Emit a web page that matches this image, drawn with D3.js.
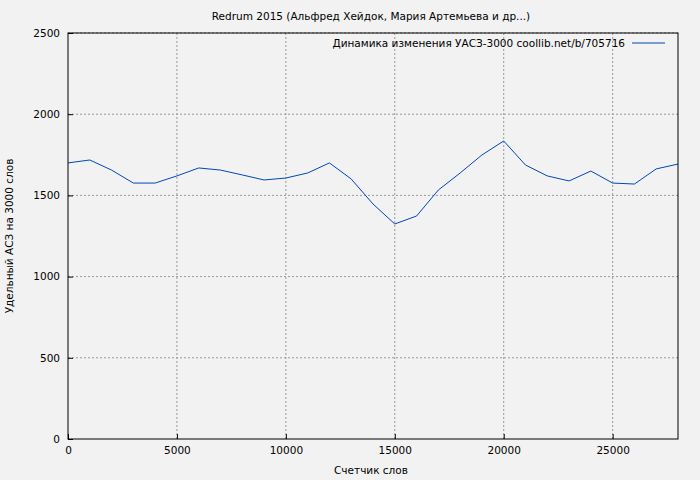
<!DOCTYPE html>
<html><head><meta charset="utf-8">
<script src="https://cdn.jsdelivr.net/npm/d3@7"></script>
<style>body{margin:0;background:#f2f2f2}svg{font-family:"DejaVu Sans",sans-serif}</style>
</head><body><div id="chart"></div>
<script>
var xs = [0,1000,2000,3000,4000,5000,6000,7000,8000,9000,10000,11000,12000,13000,14000,15000,16000,17000,18000,19000,20000,21000,22000,23000,24000,25000,26000,27000,28000];
var ys = [1700,1718,1656,1576,1576,1620,1669,1656,1626,1595,1607,1638,1700,1601,1447,1324,1373,1533,1638,1749,1835,1687,1620,1589,1650,1576,1570,1663,1693];
var xTicks = [0,5000,10000,15000,20000,25000];
var yTicks = [0,500,1000,1500,2000,2500];
var data = xs.map(function(d,i){ return {x:d, y:ys[i]}; });

var margin = {top:33, right:22, bottom:41, left:68},
    width = 700 - margin.left - margin.right,
    height = 480 - margin.top - margin.bottom;

var svg = d3.select("#chart").append("svg")
    .attr("width",700).attr("height",480)
    .style("background","#f2f2f2");
var g = svg.append("g").attr("transform","translate("+margin.left+","+margin.top+")");

var x = d3.scaleLinear().domain([0,28000]).range([0,width]);
var y = d3.scaleLinear().domain([0,2500]).range([height,0]);

// grid
g.selectAll(".gx").data(xTicks.slice(1)).enter().append("line")
  .attr("x1",x).attr("x2",x).attr("y1",0).attr("y2",height)
  .attr("stroke","#999").attr("stroke-dasharray","2,2");
g.selectAll(".gy").data(yTicks.slice(1)).enter().append("line")
  .attr("y1",y).attr("y2",y).attr("x1",0).attr("x2",width)
  .attr("stroke","#999").attr("stroke-dasharray","2,2");

g.append("path").datum(data).attr("fill","none").attr("stroke","#0047b8").attr("stroke-width",1)
  .attr("d", d3.line().x(function(d){return x(d.x);}).y(function(d){return y(d.y);}));

g.append("rect").attr("width",width).attr("height",height).attr("fill","none").attr("stroke","#000");

var ax = g.append("g").attr("transform","translate(0,"+height+")")
  .call(d3.axisBottom(x).tickValues(xTicks).tickSize(-5).tickPadding(8).tickFormat(d3.format("d")));
var ay = g.append("g").call(d3.axisLeft(y).tickValues(yTicks).tickSize(-5).tickPadding(8).tickFormat(d3.format("d")));
[ax,ay].forEach(function(a){ a.select(".domain").remove(); a.selectAll("text").style("font-size","10.5px").style("font-family","DejaVu Sans"); });

svg.append("text").attr("x",371).attr("y",20).attr("text-anchor","middle").style("font-size","10.5px")
  .text("Redrum 2015 (Альфред Хейдок, Мария Артемьева и др...)");
svg.append("text").attr("x",371).attr("y",474).attr("text-anchor","middle").style("font-size","10.5px")
  .text("Счетчик слов");
svg.append("text").attr("transform","translate(13,236) rotate(-90)").attr("text-anchor","middle").style("font-size","10.5px")
  .text("Удельный АСЗ на 3000 слов");
svg.append("text").attr("x",625).attr("y",47).attr("text-anchor","end").style("font-size","10.5px")
  .text("Динамика изменения УАСЗ-3000 coollib.net/b/705716");
svg.append("line").attr("x1",632).attr("x2",665).attr("y1",43).attr("y2",43).attr("stroke","#0047b8");
</script></body></html>
